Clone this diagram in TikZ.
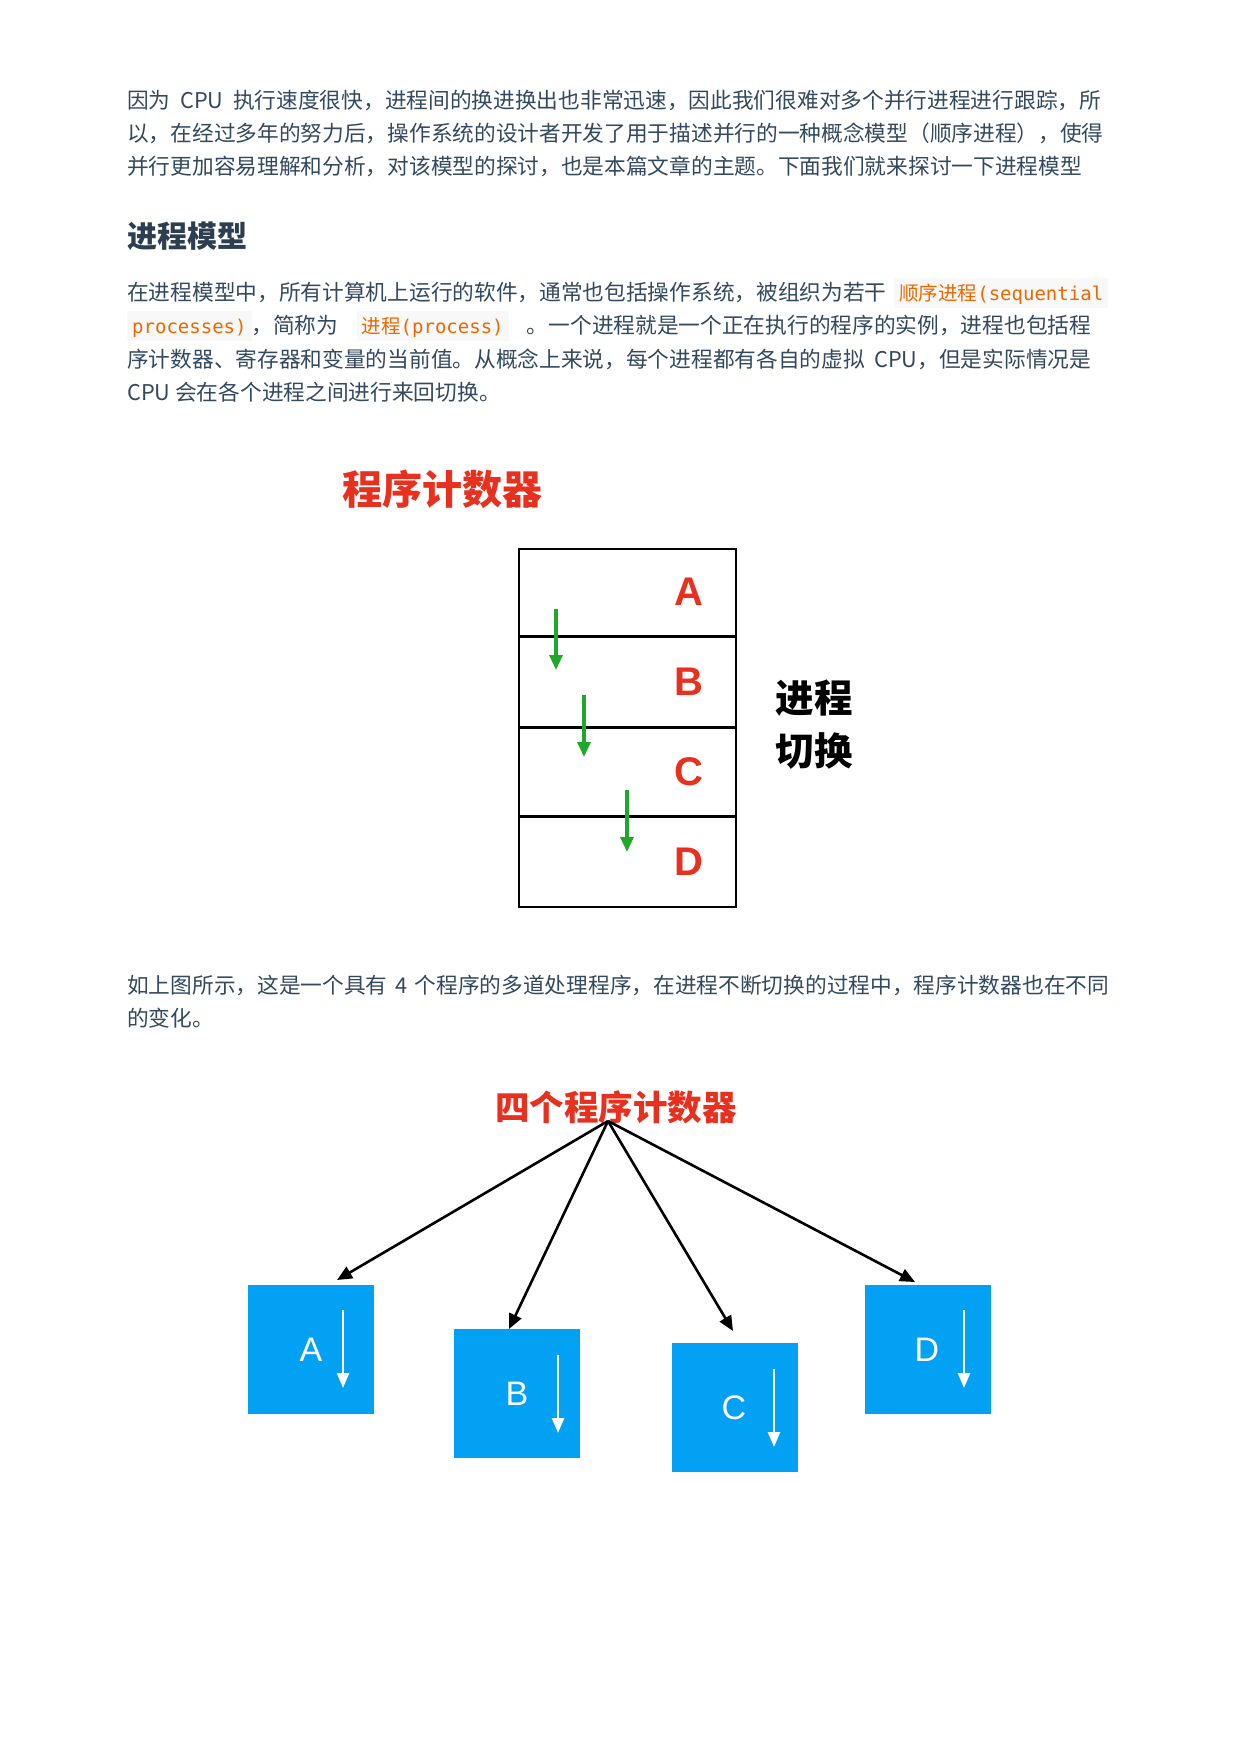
\documentclass[tikz,border=0pt]{standalone}
\usepackage{fontspec}
\setmainfont{Noto Sans CJK SC}
\newfontfamily\latinsans{Liberation Sans}
\newfontfamily\codefont{DejaVu Sans Mono}
\usetikzlibrary{arrows.meta}
\XeTeXlinebreaklocale "zh"
\XeTeXlinebreakskip=0pt plus 2pt

\definecolor{bodytext}{HTML}{34495E}
\definecolor{headtext}{HTML}{2C3E50}
\definecolor{codeor}{HTML}{E96900}
\definecolor{codebg}{HTML}{F8F8F8}
\definecolor{pcred}{RGB}{232,48,30}
\definecolor{pcgreen}{RGB}{32,168,44}
\definecolor{pcblue}{RGB}{3,161,244}

% inline code: orange mono text on a light grey band
\newcommand\inlinecode[2]{{\setlength\fboxsep{0pt}\colorbox{codebg}{\rule[-8pt]{0pt}{30pt}\hspace{5pt}\color{codeor}\fontsize{19.5}{33}\selectfont#1{\codefont\fontsize{19}{33}\selectfont#2}\hspace{5pt}}}}
% one printed line of body text, stretched to a given width
\newcommand\bodyline[2]{\makebox[#1pt][s]{#2}}

\tikzset{
  body/.style={anchor=base west, inner sep=0pt, text=bodytext, font=\fontsize{21.7}{33}\selectfont},
  redtitle/.style={inner sep=0pt, text=pcred, font=\bfseries\fontsize{40}{44}\selectfont},
  rowlabel/.style={inner sep=0pt, text=pcred, font=\latinsans\bfseries\fontsize{40}{42}\selectfont},
  rowbox/.style={draw=black, line width=1.6pt, minimum width=217pt, inner sep=0pt},
  switcharrow/.style={draw=pcgreen, line width=3.2pt, -{Triangle[length=15pt,width=13pt]}},
  pcbox/.style={fill=pcblue, minimum width=126pt, minimum height=129pt, inner sep=0pt},
  pclabel/.style={inner sep=0pt, text=white, font=\latinsans\fontsize{34}{36}\selectfont},
  pcarrow/.style={draw=white, line width=2.6pt, -{Triangle[length=15pt,width=12pt]}},
  fanarrow/.style={draw=black, line width=2.6pt, -{Triangle[length=15pt,width=13pt]}},
}

\begin{document}
\begin{tikzpicture}[x=1pt, y=-1pt]
\useasboundingbox[fill=white] (0,0) rectangle (1240,1754);

% opening paragraph
\node[body] (p1a) at (127,108) {\bodyline{974}{因为 CPU 执行速度很快，进程间的换进换出也非常迅速，因此我们很难对多个并行进程进行跟踪，所}};
\node[body] (p1b) at (127,141) {\bodyline{980}{以，在经过多年的努力后，操作系统的设计者开发了用于描述并行的一种概念模型（顺序进程），使得}};
\node[body] (p1c) at (127,174) {并行更加容易理解和分析，对该模型的探讨，也是本篇文章的主题。下面我们就来探讨一下进程模型};

% section heading
\node[anchor=base west, inner sep=0pt, text=headtext, font=\bfseries\fontsize{30}{34}\selectfont] (head) at (127,247) {进程模型};

% process model paragraph
\node[body] (p2a) at (127,300) {\bodyline{981}{在进程模型中，所有计算机上运行的软件，通常也包括操作系统，被组织为若干 \inlinecode{顺序进程}{(sequential}}};
\node[body] (p2b) at (127,333) {\bodyline{964}{\inlinecode{}{processes)}，简称为 \inlinecode{进程}{(process)} 。一个进程就是一个正在执行的程序的实例，进程也包括程}};
\node[body] (p2c) at (127,367) {\bodyline{964}{序计数器、寄存器和变量的当前值。从概念上来说，每个进程都有各自的虚拟 CPU，但是实际情况是}};
\node[body] (p2d) at (127,400) {CPU 会在各个进程之间进行来回切换。};

% first figure: one program counter stepping through A..D
\node[redtitle] (pctitle) at (442,489) {程序计数器};
\node[rowbox, minimum height=88pt, anchor=north west] (rowA) at (518,548) {};
\node[rowbox, minimum height=91pt, anchor=north west] (rowB) at (518,636) {};
\node[rowbox, minimum height=89pt, anchor=north west] (rowC) at (518,727) {};
\node[rowbox, minimum height=90pt, anchor=north west] (rowD) at (518,816) {};
\draw[line width=3pt] (rowB.north west) -- (rowB.north east);
\draw[line width=3pt] (rowC.north west) -- (rowC.north east);
\draw[line width=3pt] (rowD.north west) -- (rowD.north east);
\node[rowlabel] (lA) at (689,592) {A};
\node[rowlabel] (lB) at (689,682) {B};
\node[rowlabel] (lC) at (689,772) {C};
\node[rowlabel] (lD) at (689,862) {D};
\coordinate (s1) at (556,609); \coordinate (e1) at (556,670);
\coordinate (s2) at (584,695); \coordinate (e2) at (584,757);
\coordinate (s3) at (627,790); \coordinate (e3) at (627,852);
\draw[switcharrow] (s1) -- (e1);
\draw[switcharrow] (s2) -- (e2);
\draw[switcharrow] (s3) -- (e3);
\node[inner sep=0pt, text=black, font=\bfseries\fontsize{38.5}{40}\selectfont, align=left] (switch) at (814,725) {进程\\[13pt]切换};

% caption paragraph
\node[body] (p3a) at (127,993) {\bodyline{982}{如上图所示，这是一个具有 4 个程序的多道处理程序，在进程不断切换的过程中，程序计数器也在不同}};
\node[body] (p3b) at (127,1026) {的变化。};

% second figure: four program counters
\node[inner sep=0pt, text=pcred, font=\bfseries\fontsize{34.5}{38}\selectfont] (fourtitle) at (616,1107) {四个程序计数器};
\coordinate (src) at (608,1121);

\node[pcbox, anchor=north west] (bA) at (248,1285) {};
\node[pcbox, anchor=north west] (bB) at (454,1329) {};
\node[pcbox, anchor=north west] (bC) at (672,1343) {};
\node[pcbox, anchor=north west] (bD) at (865,1285) {};

\node[pclabel] (tA) at (311,1350) {A};
\node[pclabel] (tB) at (517,1394) {B};
\node[pclabel] (tC) at (734,1408) {C};
\node[pclabel] (tD) at (927,1350) {D};

\coordinate (wa1) at (343,1310); \coordinate (wa2) at (343,1388);
\coordinate (wb1) at (558,1355); \coordinate (wb2) at (558,1433);
\coordinate (wc1) at (774,1369); \coordinate (wc2) at (774,1447);
\coordinate (wd1) at (964,1310); \coordinate (wd2) at (964,1388);
\draw[pcarrow] (wa1) -- (wa2);
\draw[pcarrow] (wb1) -- (wb2);
\draw[pcarrow] (wc1) -- (wc2);
\draw[pcarrow] (wd1) -- (wd2);

\coordinate (ta) at (337,1280);
\coordinate (tb) at (509,1329);
\coordinate (tc) at (733,1331);
\coordinate (td) at (915,1282);
\draw[fanarrow] (src) -- (ta);
\draw[fanarrow] (src) -- (tb);
\draw[fanarrow] (src) -- (tc);
\draw[fanarrow] (src) -- (td);
\end{tikzpicture}
\end{document}
